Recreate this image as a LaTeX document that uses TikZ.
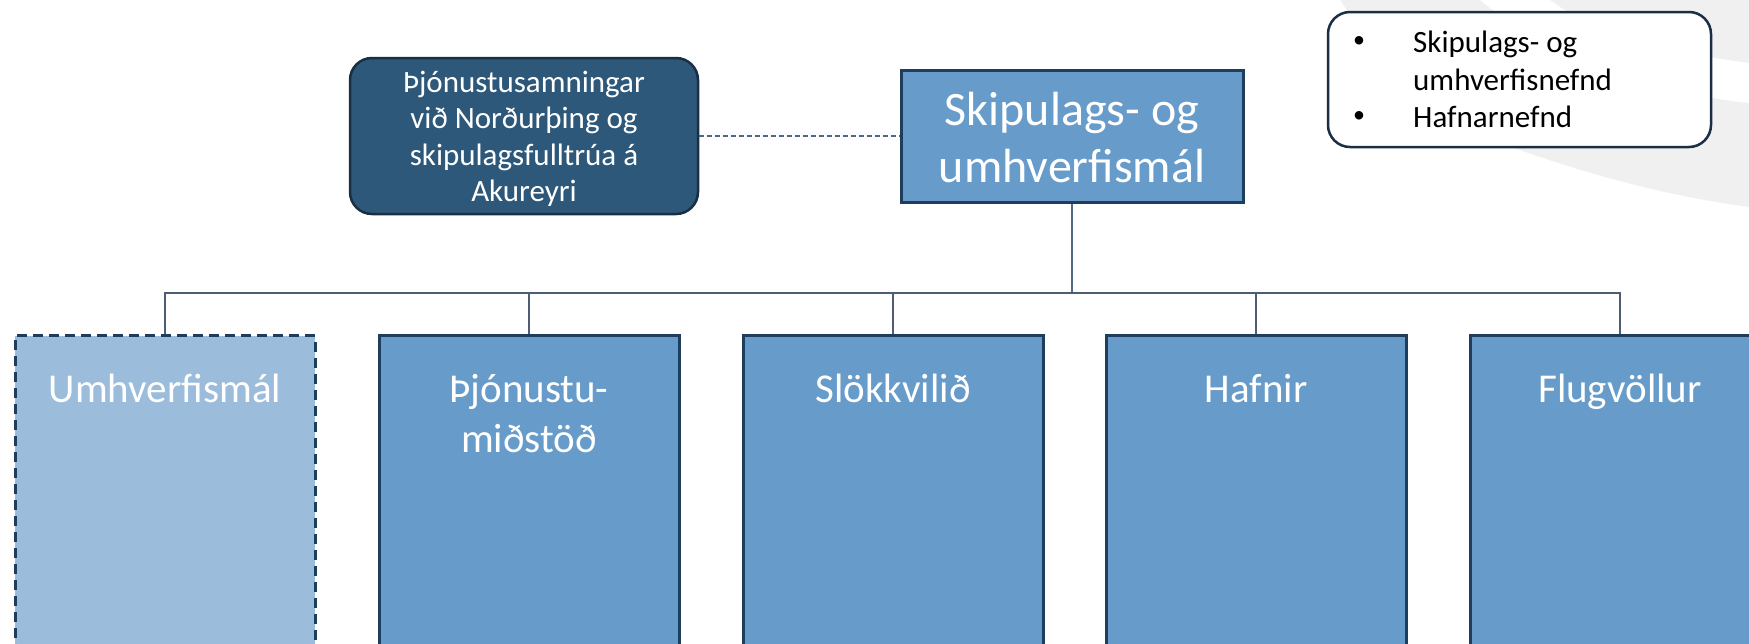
\documentclass[tikz,border=0pt]{standalone}
\usepackage{fontspec}
\setmainfont{Carlito}
\definecolor{boxfill}{HTML}{679BC9}
\definecolor{boxline}{HTML}{1F3D5C}
\definecolor{lightfill}{HTML}{9BBDDB}
\definecolor{darkfill}{HTML}{2D5879}
\definecolor{darkline}{HTML}{1B2F44}
\definecolor{conncol}{HTML}{4F5D73}
\definecolor{dashcol}{HTML}{44688E}
\definecolor{swooshcol}{HTML}{F0F0F0}
\begin{document}
\begin{tikzpicture}[x=1pt,y=-1pt,
  topbox/.style={draw=boxline, line width=3pt, fill=boxfill, minimum width=342pt, minimum height=132pt, inner sep=0pt},
  childbox/.style={draw=boxline, line width=3pt, fill=boxfill, minimum width=300pt, minimum height=340pt, inner sep=0pt, anchor=north},
  dashbox/.style={childbox, fill=lightfill, dash pattern=on 10pt off 6pt},
  darkbox/.style={draw=darkline, line width=2.5pt, fill=darkfill, rounded corners=22pt, minimum width=348pt, minimum height=156pt, inner sep=0pt},
  legendbox/.style={draw=darkline, line width=2.5pt, fill=white, rounded corners=22pt, minimum width=383pt, minimum height=135pt, inner sep=0pt},
  lbl/.style={text=white, inner sep=0pt, anchor=base},
  bigtxt/.style={lbl, font=\fontsize{48}{57}\selectfont},
  midtxt/.style={lbl, font=\fontsize{41}{50}\selectfont},
  smalltxt/.style={lbl, font=\fontsize{31}{37}\selectfont},
  legtxt/.style={inner sep=0pt, anchor=base west, text=black, font=\fontsize{31}{37}\selectfont},
  bullettxt/.style={inner sep=0pt, anchor=center, text=black, font=\fontsize{24}{30}\selectfont},
  conn/.style={draw=conncol, line width=2.4pt},
  dashconn/.style={draw=dashcol, line width=1.3pt, dash pattern=on 5pt off 3pt}
]
\useasboundingbox (0,0) rectangle (1749,643);
\clip (0,0) rectangle (1749,643);
% background swoosh
\fill[swooshcol] (1340,0) .. controls (1380,60) and (1440,120) .. (1500,143)
  .. controls (1580,172) and (1660,195) .. (1749,207) -- (1749,0) -- cycle;
\fill[white] (1480,0) .. controls (1540,50) and (1630,90) .. (1749,103)
  -- (1749,63) .. controls (1650,50) and (1590,30) .. (1550,0) -- cycle;

% top box
\node[topbox] (top) at (1072,136) {};
\node[bigtxt] (topt1) at (1072,125) {Skipulags- og};
\node[bigtxt] (topt2) at (1072,182) {umhverfismál};

% dark box
\node[darkbox] (dark) at (524,136) {};
\node[smalltxt] (dk1) at (524,92) {Þjónustusamningar};
\node[smalltxt] (dk2) at (524,128.5) {við Norðurþing og};
\node[smalltxt] (dk3) at (524,165) {skipulagsfulltrúa á};
\node[smalltxt] (dk4) at (524,201.5) {Akureyri};

% legend box
\node[legendbox] (legend) at (1519.5,79.5) {};
\node[bullettxt] (lb1) at (1359,42) {•};
\node[legtxt] (lt1) at (1413,52) {Skipulags- og};
\node[legtxt] (lt2) at (1413,90) {umhverfisnefnd};
\node[bullettxt] (lb2) at (1359,117.5) {•};
\node[legtxt] (lt3) at (1413,127.5) {Hafnarnefnd};

% child boxes
\node[dashbox] (b1) at (165,334) {};
\node[childbox] (b2) at (529,334) {};
\node[childbox] (b3) at (893,334) {};
\node[childbox] (b4) at (1256,334) {};
\node[childbox] (b5) at (1620,334) {};
\node[midtxt] (b1t) at (165,402) {Umhverfismál};
\node[midtxt] (b2t) at (529,402) {Þjónustu-};
\node[midtxt] (b2u) at (529,452) {miðstöð};
\node[midtxt] (b3t) at (893,402) {Slökkvilið};
\node[midtxt] (b4t) at (1256,402) {Hafnir};
\node[midtxt] (b5t) at (1620,402) {Flugvöllur};

% connectors
\coordinate (bus) at (1073,293);
\draw[conn, line width=1.6pt, draw=conncol!80!boxfill] (top.south) -- (top.south |- bus);
\draw[conn] (b1.north) -- (b1.north |- bus) -- (b5.north |- bus) -- (b5.north);
\draw[conn] (b2.north) -- (b2.north |- bus);
\draw[conn] (b3.north) -- (b3.north |- bus);
\draw[conn] (b4.north) -- (b4.north |- bus);
\draw[dashconn] (dark.east) -- (top.west);
\end{tikzpicture}
\end{document}
